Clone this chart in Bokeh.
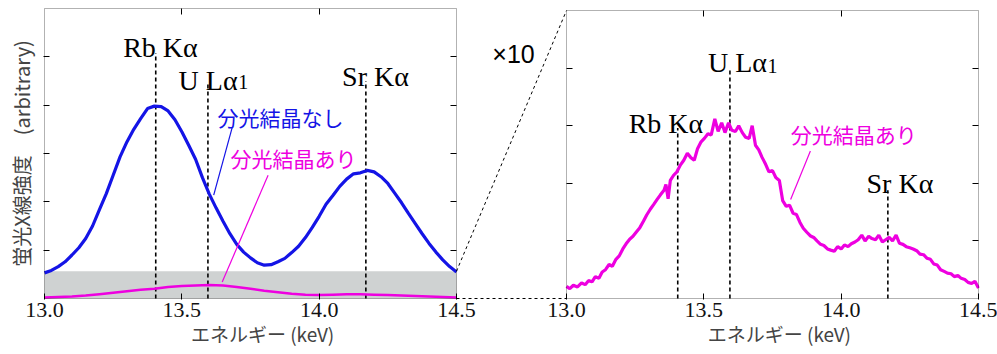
from bokeh.plotting import figure
from bokeh.models import (Range1d, LinearAxis, FixedTicker, BoxAnnotation,
                          CustomJSTickFormatter, CustomLabelingPolicy)
from bokeh.core.properties import value
from bokeh.embed import file_html
from bokeh.resources import INLINE

# ---------------- data ----------------
# left panel, blue: 分光結晶なし (without crystal)
blue_e = [13.000, 13.025, 13.050, 13.075, 13.100, 13.125, 13.150, 13.175, 13.200, 13.225,
          13.250, 13.275, 13.300, 13.325, 13.350, 13.375, 13.400, 13.425, 13.450, 13.475,
          13.500, 13.525, 13.550, 13.575, 13.600, 13.625, 13.650, 13.675, 13.700, 13.725,
          13.750, 13.775, 13.800, 13.825, 13.850, 13.875, 13.900, 13.925, 13.950, 13.975,
          14.000, 14.025, 14.050, 14.075, 14.100, 14.125, 14.150, 14.175, 14.200, 14.225,
          14.250, 14.275, 14.300, 14.325, 14.350, 14.375, 14.400, 14.425, 14.450, 14.475,
          14.500]
blue_v = [0.53, 0.58, 0.66, 0.76, 0.90, 1.05, 1.24, 1.50, 1.84, 2.17,
          2.55, 2.93, 3.24, 3.50, 3.72, 3.93, 3.98, 3.97, 3.88, 3.70,
          3.45, 3.17, 2.88, 2.50, 2.16, 1.87, 1.60, 1.34, 1.12, 0.96,
          0.84, 0.74, 0.69, 0.70, 0.76, 0.83, 0.95, 1.08, 1.26, 1.47,
          1.70, 1.95, 2.13, 2.32, 2.47, 2.58, 2.60, 2.65, 2.62, 2.52,
          2.38, 2.18, 1.98, 1.76, 1.55, 1.34, 1.14, 0.96, 0.80, 0.66,
          0.55]

# left panel, magenta: 分光結晶あり (with crystal)
pinkL_e = [13.00, 13.05, 13.10, 13.15, 13.20, 13.25, 13.30, 13.35, 13.40, 13.45,
           13.50, 13.55, 13.60, 13.65, 13.70, 13.75, 13.80, 13.85, 13.90, 13.95,
           14.00, 14.05, 14.10, 14.15, 14.20, 14.25, 14.30, 14.35, 14.40, 14.45, 14.50]
pinkL_v = [0.02, 0.03, 0.04, 0.06, 0.09, 0.12, 0.15, 0.18, 0.20, 0.24,
           0.26, 0.27, 0.28, 0.27, 0.24, 0.20, 0.16, 0.13, 0.10, 0.08,
           0.07, 0.08, 0.09, 0.09, 0.08, 0.07, 0.06, 0.05, 0.04, 0.03, 0.02]

# right panel, magenta x10
pinkR_e = [13.000, 13.012, 13.025, 13.040, 13.055, 13.068, 13.080, 13.093, 13.105, 13.118,
           13.130, 13.142, 13.155, 13.167, 13.180, 13.192, 13.205, 13.217, 13.230, 13.242,
           13.255, 13.267, 13.280, 13.292, 13.305, 13.317, 13.330, 13.342, 13.355, 13.362,
           13.370, 13.378, 13.390, 13.402, 13.415, 13.427, 13.440, 13.452, 13.465, 13.477,
           13.490, 13.502, 13.515, 13.527, 13.540, 13.552, 13.565, 13.577, 13.590, 13.602,
           13.615, 13.627, 13.640, 13.652, 13.665, 13.676, 13.688, 13.700, 13.712, 13.725,
           13.737, 13.750, 13.762, 13.775, 13.787, 13.800, 13.812, 13.825, 13.837, 13.850,
           13.862, 13.875, 13.887, 13.900, 13.912, 13.925, 13.937, 13.950, 13.962, 13.975,
           13.987, 14.000, 14.012, 14.025, 14.037, 14.050, 14.062, 14.075, 14.087, 14.100,
           14.112, 14.125, 14.137, 14.150, 14.162, 14.175, 14.187, 14.200, 14.212, 14.225,
           14.237, 14.250, 14.262, 14.275, 14.287, 14.300, 14.312, 14.325, 14.337, 14.350,
           14.362, 14.375, 14.387, 14.400, 14.412, 14.425, 14.437, 14.450, 14.462, 14.475,
           14.487, 14.500]
pinkR_v = [0.21, 0.17, 0.23, 0.20, 0.27, 0.24, 0.31, 0.29, 0.38, 0.35,
           0.46, 0.50, 0.59, 0.56, 0.68, 0.74, 0.86, 0.95, 1.03, 1.08,
           1.16, 1.23, 1.34, 1.45, 1.55, 1.63, 1.72, 1.80, 1.88, 1.98,
           1.73, 2.05, 2.14, 2.20, 2.32, 2.40, 2.52, 2.45, 2.40, 2.60,
           2.72, 2.78, 2.86, 2.84, 3.12, 2.90, 3.05, 2.88, 3.05, 2.92,
           2.90, 3.00, 2.88, 2.80, 2.78, 3.00, 2.66, 2.58, 2.45, 2.33,
           2.20, 2.22, 2.10, 2.05, 1.70, 1.60, 1.62, 1.48, 1.46, 1.32,
           1.22, 1.15, 1.09, 1.06, 1.00, 0.94, 0.92, 0.86, 0.84, 0.82,
           0.90, 0.86, 0.93, 0.90, 0.95, 0.98, 1.02, 1.10, 1.00, 1.08,
           1.04, 1.02, 1.10, 0.98, 1.02, 1.06, 1.00, 1.10, 0.96, 0.94,
           0.90, 0.88, 0.86, 0.83, 0.77, 0.76, 0.70, 0.68, 0.60, 0.58,
           0.50, 0.47, 0.44, 0.43, 0.38, 0.40, 0.35, 0.33, 0.28, 0.26,
           0.30, 0.18]

# emission line energies (keV)
line_e = [13.405, 13.595, 14.170]
line_topL = [5.08, 4.45, 4.50]     # dashed line tops, left panel units
line_topR = [2.96, 3.99, 1.88]     # dashed line tops, right panel units

x_ticks = [13.0, 13.5, 14.0, 14.5]
x_inner_ticks = [13.5, 14.0]
yL_ticks = [1, 2, 3, 4, 5]
yR_ticks = [1, 2, 3, 4]
band_top = 0.565                   # grey region magnified in the right panel
yL_max, yR_max = 6, 5

BLUE = "#1414e6"
MAGENTA = "#ee00e0"
SERIF = "Liberation Serif"
CJK = "Noto Sans CJK JP"
X_TITLE = "エネルギー (keV)"
Y_TITLE = "蛍光X線強度　(arbitrary)"

# ---------------- layout constants (pixels) ----------------
W, H = 997, 354
FX0, FX1, FY0, FY1 = 43, 979, 7, 299          # whole drawing frame
L_X0, L_X1, L_TOP = 44, 456, 8                # left panel
R_X0, R_X1, R_TOP = 566, 978, 10              # right panel
BOT = 298                                     # bottom of both panels

kx = 1.5 / (L_X1 - L_X0)                      # keV per pixel (same in both panels)
OFF = (R_X0 - L_X0) * kx                      # shift of right panel in main x units
kyL = yL_max / (BOT - L_TOP)
kyR = yR_max / (BOT - R_TOP)


def xL(px):
    return 13.0 + (px - L_X0) * kx


def yL(py):
    return (BOT - py) * kyL


def yR(py):
    return (BOT - py) * kyR


p = figure(width=W, height=H, x_range=Range1d(xL(FX0), xL(FX1)), y_range=Range1d(yL(FY1), yL(FY0)),
           output_backend="svg", toolbar_location=None,
           min_border_left=FX0, min_border_right=W - FX1, min_border_top=FY0,
           min_border_bottom=H - FY1)
p.extra_x_ranges = {"r": Range1d(xL(FX0) - OFF, xL(FX1) - OFF)}
p.extra_y_ranges = {"r": Range1d(yR(FY1), yR(FY0))}
p.grid.visible = False
p.outline_line_color = None
p.background_fill_color = "white"
p.border_fill_color = "white"


def no_labels():
    return CustomLabelingPolicy(code="for (const i of indices) { indices.unset(i) } return indices")


def tick_style(ax):
    ax.major_tick_in = 6
    ax.major_tick_out = 0
    ax.minor_tick_line_color = None
    ax.axis_line_color = None
    ax.major_tick_line_color = "black"
    ax.major_tick_line_width = 1


# main bottom axis with the tick labels of both panels
xa = p.xaxis[0]
xa.ticker = FixedTicker(ticks=x_ticks + [t + OFF for t in x_ticks])
xa.formatter = CustomJSTickFormatter(args=dict(off=OFF, split=14.7),
                                     code="const v = tick > split ? tick - off : tick; return v.toFixed(1);")
tick_style(xa)
xa.major_label_text_font = SERIF
xa.major_label_text_font_size = "22px"
xa.major_label_text_color = "#111111"
xa.major_label_standoff = 3

# second bottom axis carrying the two x-axis titles
xt = LinearAxis(ticker=FixedTicker(ticks=[13.794, 13.775 + OFF]),
                formatter=CustomJSTickFormatter(args=dict(lbl=X_TITLE), code="return lbl;"),
                major_tick_in=0, major_tick_out=0, minor_tick_line_color=None,
                axis_line_color=None, major_label_standoff=0,
                major_label_text_font=CJK, major_label_text_font_size="19px",
                major_label_text_color="#444444")
p.add_layout(xt, "below")

# left y axis (title only, ticks inward)
ya = p.yaxis[0]
ya.ticker = FixedTicker(ticks=yL_ticks)
ya.major_label_policy = no_labels()
ya.major_label_text_font_size = "0px"
ya.major_label_standoff = 0
tick_style(ya)
ya.axis_label = Y_TITLE
ya.axis_label_text_font = CJK
ya.axis_label_text_font_size = "20px"
ya.axis_label_text_font_style = "normal"
ya.axis_label_text_color = "#444444"
ya.axis_label_standoff = 8

# fixed-location axes giving the inward ticks on the other frame sides
extra_axes = [
    (LinearAxis(ticker=FixedTicker(ticks=x_inner_ticks), fixed_location=yL_max), "above"),
    (LinearAxis(ticker=FixedTicker(ticks=x_inner_ticks), fixed_location=yR_max,
                x_range_name="r", y_range_name="r"), "above"),
    (LinearAxis(ticker=FixedTicker(ticks=yL_ticks), fixed_location=14.5), "right"),
    (LinearAxis(ticker=FixedTicker(ticks=yR_ticks), fixed_location=13.0,
                x_range_name="r", y_range_name="r"), "left"),
    (LinearAxis(ticker=FixedTicker(ticks=yR_ticks), fixed_location=14.5,
                x_range_name="r", y_range_name="r"), "right"),
]
for ax, side in extra_axes:
    ax.major_label_policy = no_labels()
    ax.major_label_text_font_size = "0px"
    ax.major_label_standoff = 0
    tick_style(ax)
    p.add_layout(ax, side)

# grey band and panel frames
p.add_layout(BoxAnnotation(left=13.0, right=14.5, bottom=0, top=band_top, fill_color="#cfd2d2",
                           fill_alpha=1, line_color=None, level="underlay"))
p.add_layout(BoxAnnotation(left=13.0, right=14.5, bottom=0, top=yL_max, fill_alpha=0,
                           line_color="black", line_width=1))
p.add_layout(BoxAnnotation(left=13.0, right=14.5, bottom=0, top=yR_max, fill_alpha=0,
                           line_color="black", line_width=1, x_range_name="r", y_range_name="r"))

# ---- left panel content ----
p.segment(x0=line_e, y0=[0] * 3, x1=line_e, y1=line_topL, line_color="black",
          line_width=1.6, line_dash="4 3")
p.line(pinkL_e, pinkL_v, line_color=MAGENTA, line_width=2.5)
p.line(blue_e, blue_v, line_color=BLUE, line_width=3.2)

p.text(x=[13.422, 14.205], y=[5.20, 4.60], text=["Rb Kα", "Sr Kα"],
       text_font=value(SERIF), text_font_size="28px", text_align="center",
       text_baseline="alphabetic", text_color="black")
p.text(x=[13.703], y=[4.52], text=["U Lα"], text_font=value(SERIF), text_font_size="28px",
       text_align="right", text_baseline="alphabetic", text_color="black")
p.text(x=[13.705], y=[4.48], text=["1"], text_font=value(SERIF), text_font_size="20px",
       text_align="left", text_baseline="alphabetic", text_color="black")
p.text(x=[13.630], y=[3.76], text=["分光結晶なし"], text_font=value(CJK), text_font_size="21px",
       text_align="left", text_baseline="middle", text_color=BLUE)
p.text(x=[13.677], y=[2.90], text=["分光結晶あり"], text_font=value(CJK), text_font_size="21px",
       text_align="left", text_baseline="middle", text_color=MAGENTA)
p.segment(x0=[13.683], y0=[3.53], x1=[13.616], y1=[2.14], line_color=BLUE, line_width=1.2)
p.segment(x0=[13.814], y0=[2.55], x1=[13.647], y1=[0.34], line_color=MAGENTA, line_width=1.2)

# connecting dashed lines from the grey band to the magnified panel
p.segment(x0=[14.5, 14.5], y0=[band_top, 0], x1=[xL(R_X0), xL(R_X0)], y1=[yL(R_TOP), 0],
          line_color="black", line_width=1, line_dash="3 3")
p.text(x=[xL(513)], y=[yL(53)], text=["×10"], text_font=value("Liberation Sans"),
       text_font_size="25px", text_align="center", text_baseline="middle", text_color="black")

# ---- right panel content ----
R = dict(x_range_name="r", y_range_name="r")
p.segment(x0=line_e, y0=[0] * 3, x1=line_e, y1=line_topR, line_color="black",
          line_width=1.6, line_dash="4 3", **R)
p.line(pinkR_e, pinkR_v, line_color=MAGENTA, line_width=3.2, **R)
p.text(x=[13.362, 14.214], y=[3.03, 2.00], text=["Rb Kα", "Sr Kα"],
       text_font=value(SERIF), text_font_size="28px", text_align="center",
       text_baseline="alphabetic", text_color="black", **R)
p.text(x=[13.730], y=[4.09], text=["U Lα"], text_font=value(SERIF), text_font_size="28px",
       text_align="right", text_baseline="alphabetic", text_color="black", **R)
p.text(x=[13.732], y=[4.04], text=["1"], text_font=value(SERIF), text_font_size="20px",
       text_align="left", text_baseline="alphabetic", text_color="black", **R)
p.text(x=[13.816], y=[2.86], text=["分光結晶あり"], text_font=value(CJK), text_font_size="21px",
       text_align="left", text_baseline="middle", text_color=MAGENTA, **R)
p.segment(x0=[13.888], y0=[2.56], x1=[13.816], y1=[1.72], line_color=MAGENTA,
          line_width=1.2, **R)

open("out.html", "w").write(file_html(p, INLINE))
